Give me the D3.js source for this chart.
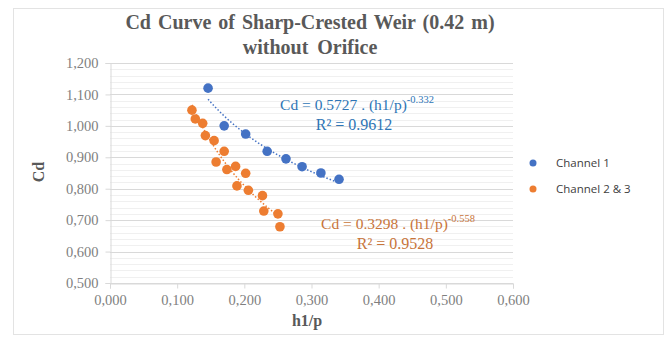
<!DOCTYPE html>
<html>
<head>
<style>
body { margin: 0; background: #fff; }
text { font-family: "Liberation Serif", "Times New Roman", serif; }
</style>
<script src="https://cdnjs.cloudflare.com/ajax/libs/d3/7.8.5/d3.min.js"></script>
</head>
<body>
<svg id="chart" width="669" height="338"></svg>
<script>
// Channel 1
var ch1X = [0.146, 0.170, 0.202, 0.234, 0.262, 0.286, 0.314, 0.341];
var ch1Y = [1.120, 1.000, 0.974, 0.919, 0.895, 0.870, 0.850, 0.830];
// Channel 2 & 3
var ch23X = [0.122, 0.127, 0.138, 0.142, 0.155, 0.170, 0.158, 0.174, 0.187, 0.202, 0.189, 0.206, 0.227, 0.229, 0.250, 0.253];
var ch23Y = [1.050, 1.022, 1.008, 0.969, 0.953, 0.919, 0.885, 0.861, 0.871, 0.849, 0.809, 0.795, 0.778, 0.729, 0.720, 0.679];
// power trendlines Cd = a * x^b
var fitA = [0.5727, 0.3298];
var fitB = [-0.332, -0.558];
var fitR2 = ["0.9612", "0.9528"];
var seriesNames = ["Channel 1", "Channel 2 & 3"];
var xTicks = [0, 0.1, 0.2, 0.3, 0.4, 0.5, 0.6];
var yTicks = [0.5, 0.6, 0.7, 0.8, 0.9, 1.0, 1.1, 1.2];

var colors = ["#4472c4", "#ed7d31"];
var textColors = ["#2e75b6", "#c8743a"];

var svg = d3.select("#chart");
var fmt = function(d){ return d3.format(".3f")(d).replace(".", ","); };

// outer frame
svg.append("rect").attr("x", 13.5).attr("y", 8.5).attr("width", 650).attr("height", 326)
  .attr("fill", "none").attr("stroke", "#e3e3e3");

var x = d3.scaleLinear().domain([0, 0.6]).range([110, 513]);
var y = d3.scaleLinear().domain([0.5, 1.2]).range([283, 63]);

// minor grid
var minor = d3.range(0.5, 1.2001, 0.02);
svg.append("g").selectAll("line").data(minor).enter().append("line")
  .attr("x1", x(0)).attr("x2", x(0.6))
  .attr("y1", function(d){ return Math.round(y(d)) + 0.5; })
  .attr("y2", function(d){ return Math.round(y(d)) + 0.5; })
  .attr("stroke", "#f0f0f0");

// major grid
svg.append("g").selectAll("line").data(yTicks).enter().append("line")
  .attr("x1", x(0)).attr("x2", x(0.6))
  .attr("y1", function(d){ return Math.round(y(d)) + 0.5; })
  .attr("y2", function(d){ return Math.round(y(d)) + 0.5; })
  .attr("stroke", "#d9d9d9");

var axisX = d3.axisBottom(x).tickValues(xTicks).tickFormat(fmt).tickSize(5).tickPadding(6);
var gx = svg.append("g").attr("transform", "translate(0," + (Math.round(y(0.5)) + 0.5) + ")").call(axisX);
var axisY = d3.axisLeft(y).tickValues(yTicks).tickFormat(fmt).tickSize(5).tickPadding(7);
var gy = svg.append("g").attr("transform", "translate(" + (Math.round(x(0)) + 0.5) + ",0)").call(axisY);
[gx, gy].forEach(function(g){
  g.select(".domain").attr("stroke", "#d9d9d9");
  g.selectAll(".tick line").attr("stroke", "#d9d9d9");
  g.selectAll(".tick text").attr("fill", "#7f7f7f")
    .style("font-family", "'Liberation Serif', serif").style("font-size", "14.5px");
});

// trendlines
var ranges = [d3.extent(ch1X), d3.extent(ch23X)];
var line = d3.line().x(function(d){ return x(d[0]); }).y(function(d){ return y(d[1]); });
ranges.forEach(function(r, i){
  var pts = d3.range(0, 41).map(function(k){
    var xv = r[0] + (r[1] - r[0]) * k / 40;
    return [xv, fitA[i] * Math.pow(xv, fitB[i])];
  });
  svg.append("path").attr("d", line(pts)).attr("fill", "none")
    .attr("stroke", colors[i]).attr("stroke-width", 1.5).attr("stroke-dasharray", "1.5,2");
});

// points
var series = [d3.zip(ch1X, ch1Y), d3.zip(ch23X, ch23Y)];
series.forEach(function(s, i){
  svg.append("g").selectAll("circle").data(s).enter().append("circle")
    .attr("cx", function(d){ return x(d[0]); })
    .attr("cy", function(d){ return y(d[1]); })
    .attr("r", 4.8).attr("fill", colors[i]);
});

// equations
var eqPos = [[357, 110, 130], [398, 229, 249]];
eqPos.forEach(function(p, i){
  var t = svg.append("text").attr("x", p[0]).attr("y", p[1]).attr("text-anchor", "middle")
    .attr("fill", textColors[i]).style("font-size", "15.5px");
  t.append("tspan").text("Cd = " + fitA[i] + " . (h1/p)");
  t.append("tspan").attr("dy", -7).style("font-size", "10.5px").text(String(fitB[i]));
  svg.append("text").attr("x", p[0] - 3).attr("y", p[2]).attr("text-anchor", "middle")
    .attr("fill", textColors[i]).style("font-size", "16px")
    .text("R² = " + fitR2[i]);
});

// title
svg.append("text").attr("x", 310).attr("y", 29).attr("text-anchor", "middle")
  .attr("fill", "#595959").style("font-size", "20px").style("font-weight", "bold")
  .style("word-spacing", "2px")
  .text("Cd Curve of Sharp-Crested Weir (0.42 m)");
svg.append("text").attr("x", 310).attr("y", 54).attr("text-anchor", "middle")
  .attr("fill", "#595959").style("font-size", "20px").style("font-weight", "bold")
  .style("word-spacing", "4px")
  .text("without Orifice");

// axis titles
svg.append("text").attr("x", 307).attr("y", 326).attr("text-anchor", "middle")
  .attr("fill", "#595959").style("font-size", "16px").style("font-weight", "bold").text("h1/p");
svg.append("text").attr("transform", "translate(44,172) rotate(-90)").attr("text-anchor", "middle")
  .attr("fill", "#595959").style("font-size", "16px").style("font-weight", "bold").text("Cd");

// legend
seriesNames.forEach(function(n, i){
  var ly = 163 + i * 26;
  svg.append("circle").attr("cx", 533).attr("cy", ly).attr("r", 3.5).attr("fill", colors[i]);
  svg.append("text").attr("x", 556).attr("y", ly + 4).attr("fill", "#404040")
    .style("font-family", "'Open Sans', 'Liberation Sans', sans-serif").style("font-size", "11.5px").text(n);
});
</script>
</body>
</html>
